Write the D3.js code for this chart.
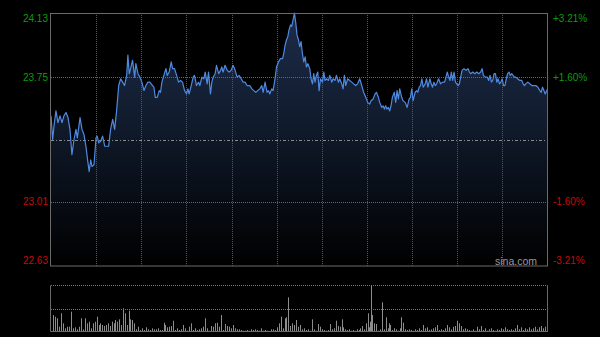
<!DOCTYPE html>
<meta charset="utf-8">
<style>

body {
  margin: 0;
  background: #000;
}

text {
  font-family: Arial, "Liberation Sans", sans-serif;
  font-size: 10px;
}

</style>
<body>
<script src="https://d3js.org/d3.v7.min.js"></script>
<script>

// [minutes since 09:30 (lunch removed), price]
var morningTicks = [
  [0,23.52],[1.1,23.38],[2.0,23.46],[3.3,23.55],[4.6,23.48],[6.0,23.52],[7.3,23.48],[8.6,23.52],[10.0,23.54],[11.3,23.51],
  [12.6,23.44],[13.9,23.29],[15.3,23.38],[16.6,23.44],[17.5,23.39],[19.3,23.51],[20.6,23.44],[21.9,23.41],[23.2,23.34],[24.6,23.24],
  [25.4,23.19],[26.4,23.26],[27.2,23.22],[28.6,23.23],[29.9,23.39],[30.7,23.40],[31.7,23.36],[33.0,23.37],[34.3,23.40],[35.7,23.34],
  [37.0,23.34],[38.3,23.34],[39.6,23.44],[41.0,23.50],[42.3,23.44],[43.6,23.55],[45.0,23.70],[46.3,23.74],[47.6,23.72],[48.9,23.70],
  [50.3,23.76],[51.1,23.88],[52.0,23.77],[52.9,23.80],[54.2,23.85],[55.6,23.75],[56.4,23.83],[57.8,23.77],[59.1,23.75],[60.4,23.72],
  [61.8,23.67],[63.1,23.70],[64.4,23.72],[65.7,23.72],
  [67.5,23.70],[68.4,23.69],[69.3,23.63],[70.6,23.63],[71.9,23.67],[72.8,23.66],[73.7,23.72],[75.0,23.76],[76.4,23.80],[77.2,23.76],
  [78.6,23.78],[79.9,23.84],[80.8,23.80],[82.1,23.80],[83.5,23.76],[84.8,23.72],[86.1,23.73],[87.4,23.72],[88.8,23.67],[90.1,23.65],
  [91.0,23.68],[91.8,23.65],[93.2,23.70],[94.5,23.75],[95.4,23.76],[96.7,23.70],[98.1,23.72],[98.9,23.70],[100.3,23.75],[101.6,23.74],
  [102.5,23.78],[103.8,23.71],[104.7,23.78],[106.0,23.65],[106.9,23.72],[107.8,23.75],[109.1,23.77],[110.0,23.82],[111.4,23.77],[112.7,23.79],
  [113.5,23.81],[114.4,23.78],[115.7,23.82],[117.1,23.79],[118.4,23.78],[119.7,23.79],[121.0,23.82],[122.4,23.79],[123.7,23.75],[125.0,23.76],
  [126.4,23.74],[127.7,23.72],[129.0,23.72],[130.3,23.70],[132.1,23.70],
  [133.5,23.68],[134.8,23.67],[136.1,23.66],[137.4,23.67],[138.8,23.68],[140.1,23.70],[141.0,23.66],[142.3,23.72],[143.6,23.66],[144.6,23.67],
  [145.4,23.65],[146.7,23.68],[147.6,23.67],[148.9,23.74],[149.9,23.81]
];

var afternoonTicks = [
  [151.2,23.84],[152.5,23.86],[153.9,23.86],[154.7,23.89],[155.6,23.94],[156.5,23.97],[157.4,23.99],[158.2,24.03],[159.2,24.06],[160.0,24.05],
  [160.9,24.09],[161.8,24.13],[162.7,24.07],[163.5,24.00],[164.5,23.97],[165.3,23.93],[166.2,23.96],[167.1,23.89],[168.0,23.84],[168.9,23.87],
  [169.8,23.81],[170.7,23.83],[172.0,23.80],[172.8,23.74],[173.8,23.71],[174.6,23.77],[175.5,23.72],[176.4,23.76],[177.3,23.78],[178.2,23.67],
  [179.1,23.74],[180.4,23.72],[181.3,23.78],[182.1,23.73],[183.1,23.74],[184.4,23.73],[185.3,23.76],[186.6,23.72],[187.5,23.74],[188.8,23.73],
  [189.7,23.76],[191.0,23.72],[191.9,23.74],[193.2,23.71],[194.1,23.68],[195.0,23.76],[195.9,23.70],[197.2,23.74],[198.5,23.73],
  [199.9,23.72],[201.2,23.71],[202.5,23.70],[203.8,23.71],[205.2,23.74],[206.5,23.70],[207.8,23.66],[209.2,23.63],[210.5,23.60],[211.8,23.59],
  [212.7,23.61],[214.1,23.62],[215.4,23.65],[216.3,23.66],[217.6,23.63],[218.5,23.60],[219.8,23.57],[220.7,23.58],[221.6,23.56],[222.4,23.58],
  [223.3,23.56],[224.2,23.57],[225.1,23.55],[226.0,23.58],[226.9,23.63],[228.2,23.66],[229.1,23.60],[230.0,23.67],[230.9,23.62],[231.8,23.68],
  [233.1,23.63],[234.0,23.61],[235.4,23.60],[236.7,23.57],[238.0,23.62],[238.9,23.63],[239.8,23.68],[240.7,23.61],[242.0,23.66],[243.0,23.67],
  [243.8,23.66],[244.7,23.69],[245.6,23.70],[246.5,23.74],[247.4,23.69],[248.7,23.71],[249.6,23.74],[250.5,23.69],[251.8,23.74],[252.7,23.71],
  [253.6,23.69],[254.5,23.72],[255.4,23.70],[256.3,23.71],[257.6,23.74],[258.9,23.71],[260.3,23.72],[261.6,23.72],[262.5,23.75],[263.4,23.78],
  [264.3,23.75],[265.2,23.73],
  [266.1,23.78],[267.0,23.73],[267.9,23.78],[268.8,23.72],[269.7,23.71],[270.6,23.70],[271.4,23.71],[272.3,23.75],[273.2,23.79],[274.5,23.80],
  [275.9,23.79],[277.2,23.80],[278.1,23.78],[279.0,23.77],[280.3,23.78],[281.6,23.77],[283.0,23.78],[284.3,23.77],[285.6,23.78],[286.5,23.80],
  [287.4,23.76],[288.7,23.75],[290.0,23.75],[290.9,23.73],[291.8,23.76],[292.7,23.72],[293.6,23.73],[294.5,23.77],[295.4,23.77],[296.3,23.72],
  [297.2,23.74],[298.1,23.71],[299.0,23.72],[299.9,23.74],[300.8,23.70],[301.7,23.70],[302.6,23.74],[303.5,23.77],[304.4,23.78],[305.3,23.76],
  [306.2,23.77],[307.1,23.76],[308.0,23.75],[308.9,23.75],[310.2,23.74],[311.6,23.73],[312.9,23.73],[313.8,23.71],[314.7,23.70],[315.6,23.71],
  [316.9,23.72],[318.3,23.71],[319.6,23.70],[320.9,23.70],[322.3,23.70],[323.6,23.69],[324.9,23.67],[325.8,23.66],[326.7,23.69],[327.6,23.67],
  [328.5,23.65],[330,23.68]
];

// [minute, volume (thousand shares)]
var volumes = [
  [1.1,170],[2.7,153],[3.8,137],[5.3,53],[6.6,187],[8.2,87],[9.5,37],[10.8,53],[12.0,53],[13.5,203],
  [14.8,37],[16.2,47],[17.5,27],[18.6,53],[19.7,137],[21.0,27],[22.8,137],[24.1,87],[25.0,103],[26.3,37],
  [28.1,87],[29.4,103],[30.3,153],[31.6,70],[32.5,87],[33.6,70],[35.0,60],[36.5,70],[38.1,87],[39.4,60],
  [40.5,103],[41.8,87],[42.7,120],[44.0,103],[45.4,127],[46.7,70],[47.8,237],[48.9,187],[50.2,70],[51.6,213],
  [52.7,127],[54.0,120],[55.1,87],[56.4,27],[57.8,53],[59.1,20],[60.4,37],[61.7,20],[63.1,47],[64.4,27],
  [65.7,20],[67.1,37],[68.4,27],[69.7,27],[71.0,37],[72.4,20],[73.7,20],[74.8,93],[75.9,70],[77.2,47],
  [78.6,53],[79.9,60],[81.2,113],[82.5,20],[83.9,37],[85.2,20],[86.5,27],[87.9,70],[89.2,37],[90.5,13],
  [91.8,53],[93.2,87],[94.5,20],[95.8,37],[97.1,20],[98.5,27],[99.8,37],[101.1,53],[102.5,137],[103.8,37],
  [105.1,13],[106.4,60],[107.8,53],[109.1,87],[110.4,93],[111.8,53],[113.1,170],[114.4,20],[115.7,80],[117.1,60],
  [118.4,53],[119.7,37],[121.0,70],[122.4,37],[123.7,27],[125.0,27],[126.4,20],[127.7,13],[129.0,13],[130.4,20],
  [131.7,13],[133.0,27],[134.3,20],[135.7,27],[137.0,20],[138.3,13],[139.6,37],[141.0,13],[142.3,20],[143.6,13],
  [145.0,10],[146.3,27],[147.6,27],[149.0,20],[150.3,47],[151.6,87],[152.9,153],[154.2,37],[155.6,137],[156.5,147],
  [157.6,347],[158.7,60],[160.0,87],[161.3,70],[162.6,120],[164.0,53],[165.3,70],[166.6,27],[168.0,37],[169.3,20],
  [170.6,27],[171.9,13],[173.3,127],[174.6,27],[175.9,13],[177.3,80],[178.6,53],[179.9,27],[181.2,20],[182.6,13],
  [183.9,20],[185.7,80],[187.0,27],[188.3,37],[189.2,113],[190.5,60],[191.9,53],[193.2,127],[194.1,47],[195.4,27],
  [196.7,20],[198.1,27],[199.4,13],[200.7,20],[202.0,13],[203.4,27],[204.7,20],[205.6,37],[206.9,60],[208.2,27],
  [209.6,87],[210.4,187],[211.3,47],[211.8,103],[212.4,470],[213.5,170],[214.4,87],[215.8,80],[217.1,13],[218.4,27],
  [220.2,297],[221.5,27],[222.8,147],[223.7,37],[224.6,87],[225.5,70],[226.8,20],[228.1,37],[229.5,27],[230.8,13],
  [232.1,37],[232.8,147],[233.9,93],[235.2,27],[236.6,20],[237.9,27],[239.2,20],[240.5,13],[241.9,27],[243.2,20],
  [244.5,37],[245.9,20],[247.2,70],[248.5,37],[249.8,47],[251.2,20],[252.5,27],[253.8,37],[255.1,47],[256.5,70],
  [257.8,20],[259.1,27],[260.5,20],[261.8,37],[263.1,70],[264.4,47],[265.8,27],[267.1,53],[268.4,60],[269.8,113],
  [271.1,87],[272.4,60],[273.7,27],[275.1,37],[276.4,27],[277.7,20],[279.0,13],[280.4,27],[281.7,13],[283.0,53],
  [284.4,27],[285.7,60],[287.0,20],[288.3,37],[289.7,13],[291.0,27],[292.3,37],[293.6,20],[295.0,13],[296.3,27],
  [297.6,20],[299.0,37],[300.3,27],[301.6,47],[302.9,27],[304.3,20],[305.6,27],[306.9,20],[308.3,37],[309.6,70],
  [310.9,27],[312.2,47],[313.6,20],[314.9,37],[316.2,27],[317.6,47],[319.0,27],[320.2,37],[321.5,53],[322.9,27],
  [324.2,47],[325.5,60],[326.8,37],[328.1,53],[329.5,53]
];

var prevClose = 23.38;
var priceTicks = [24.13, 23.75, 23.01, 22.63];
var priceLabels = ["24.13", "23.75", "23.01", "22.63"];
var pctLabels = ["+3.21%", "+1.60%", "-1.60%", "-3.21%"];
var gridMinutes = [30, 60, 90, 120, 150, 180, 210, 240, 270, 300];
var volMax = 470;

var width = 600,
    height = 337;

var plotLeft = 51, plotRight = 547.5,
    plotTop = 13, plotBottom = 266,
    volTop = 285, volBottom = 332;

var ticks = morningTicks.concat(afternoonTicks);

var svg = d3.select("body").append("svg")
    .attr("width", width)
    .attr("height", height)
    .style("display", "block")
    .style("background", "#000");

var x = d3.scaleLinear().domain([0, 330]).range([plotLeft, plotRight]);
var y = d3.scaleLinear().domain([22.63, 24.13]).range([plotBottom, plotTop]);
var yv = d3.scaleLinear().domain([0, volMax]).range([volBottom, volTop]);

var gradient = svg.append("defs").append("linearGradient")
    .attr("id", "fade")
    .attr("gradientUnits", "userSpaceOnUse")
    .attr("x1", 0).attr("y1", plotTop)
    .attr("x2", 0).attr("y2", plotBottom);

gradient.append("stop").attr("offset", "0%").attr("stop-color", "#1d2c4a");
gradient.append("stop").attr("offset", "45%").attr("stop-color", "#101a2b");
gradient.append("stop").attr("offset", "100%").attr("stop-color", "#000");

svg.append("path")
    .datum(ticks)
    .attr("fill", "url(#fade)")
    .attr("d", d3.area()
        .x(function(d) { return x(d[0]); })
        .y0(plotBottom)
        .y1(function(d) { return y(d[1]); }));

// grid
svg.selectAll(".vgrid")
    .data(gridMinutes)
  .enter().append("line")
    .attr("x1", function(d) { return Math.round(x(d)) + 0.5; })
    .attr("x2", function(d) { return Math.round(x(d)) + 0.5; })
    .attr("y1", plotTop)
    .attr("y2", plotBottom)
    .attr("stroke", "#555")
    .attr("stroke-dasharray", "1,1");

svg.selectAll(".hgrid")
    .data([23.75, 23.01])
  .enter().append("line")
    .attr("x1", plotLeft)
    .attr("x2", plotRight)
    .attr("y1", function(d) { return Math.round(y(d)) + 0.5; })
    .attr("y2", function(d) { return Math.round(y(d)) + 0.5; })
    .attr("stroke", "#666")
    .attr("stroke-dasharray", "1,1");

svg.append("line")
    .attr("x1", plotLeft)
    .attr("x2", plotRight)
    .attr("y1", Math.round(y(prevClose)) + 0.5)
    .attr("y2", Math.round(y(prevClose)) + 0.5)
    .attr("stroke", "#8a8a8a")
    .attr("stroke-dasharray", "3,2,1,2");

svg.append("path")
    .datum(ticks)
    .attr("fill", "none")
    .attr("stroke", "#4f8ae0")
    .attr("stroke-width", 1.2)
    .attr("stroke-linejoin", "round")
    .attr("d", d3.line()
        .x(function(d) { return x(d[0]); })
        .y(function(d) { return y(d[1]); }));

svg.append("rect")
    .attr("x", plotLeft - 0.5)
    .attr("y", plotTop + 0.5)
    .attr("width", plotRight - plotLeft + 0.5)
    .attr("height", plotBottom - plotTop - 0.5)
    .attr("fill", "none")
    .attr("stroke", "#6a6a6a");

// labels, end ones pulled inside the frame
function labelY(d, i) {
  if (i === 0) return y(d) + 8.5;
  if (i === priceTicks.length - 1) return y(d) - 2.5;
  return y(d) + 3.5;
}

svg.selectAll(".lab")
    .data(priceTicks)
  .enter().append("text")
    .attr("x", 48)
    .attr("y", labelY)
    .attr("text-anchor", "end")
    .attr("fill", function(d) { return d > prevClose ? "#0c9c0c" : "#c80a0a"; })
    .text(function(d, i) { return priceLabels[i]; });

svg.selectAll(".pct")
    .data(priceTicks)
  .enter().append("text")
    .attr("x", 553)
    .attr("y", labelY)
    .attr("fill", function(d) { return d > prevClose ? "#0c9c0c" : "#c80a0a"; })
    .text(function(d, i) { return pctLabels[i]; });

svg.append("text")
    .attr("x", 537)
    .attr("y", 264.5)
    .attr("text-anchor", "end")
    .attr("fill", "#9a9a9a")
    .style("font-size", "10.5px")
    .text("sina.com");

// volume panel
svg.selectAll(".vol")
    .data(volumes)
  .enter().append("line")
    .attr("x1", function(d) { return Math.round(x(d[0])) + 0.5; })
    .attr("x2", function(d) { return Math.round(x(d[0])) + 0.5; })
    .attr("y1", volBottom)
    .attr("y2", function(d) { return yv(d[1]); })
    .attr("stroke", "#8c8c8c");

svg.selectAll(".vgridline")
    .data([volMax, volMax / 2])
  .enter().append("line")
    .attr("x1", plotLeft)
    .attr("x2", plotRight)
    .attr("y1", function(d) { return Math.round(yv(d)) + 0.5; })
    .attr("y2", function(d) { return Math.round(yv(d)) + 0.5; })
    .attr("stroke", "#777")
    .attr("stroke-dasharray", "1,1");

svg.append("path")
    .attr("d", "M" + (plotLeft - 0.5) + "," + (volTop + 0.5)
        + "V" + (volBottom - 0.5)
        + "H" + plotRight
        + "V" + (volTop + 0.5))
    .attr("fill", "none")
    .attr("stroke", "#6a6a6a");

</script>
